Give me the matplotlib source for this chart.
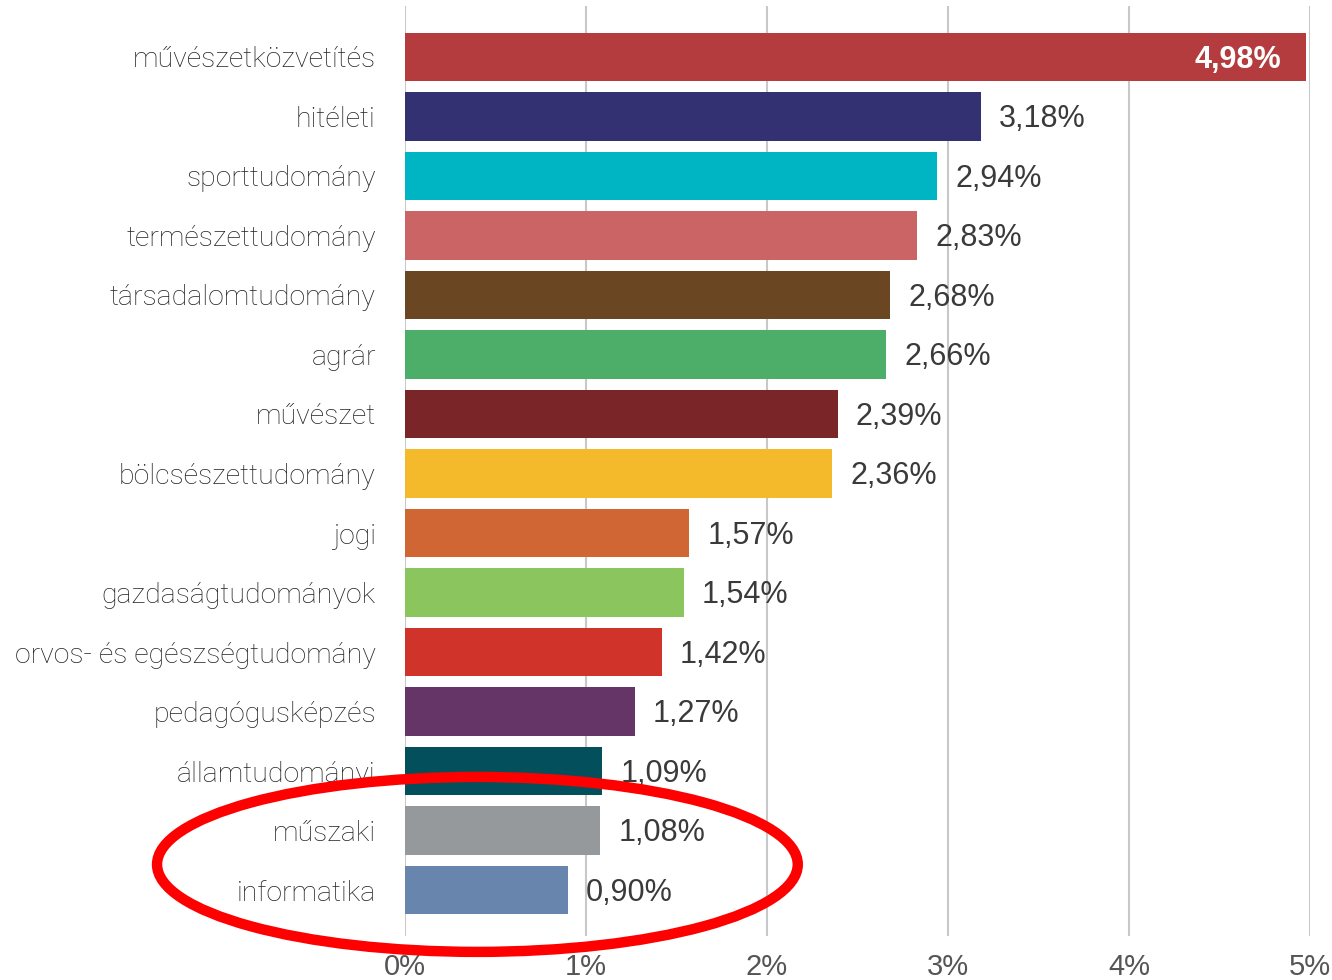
import matplotlib
matplotlib.use("Agg")
import matplotlib.pyplot as plt
from matplotlib.patches import Ellipse

categories = [
    "művészetközvetítés", "hitéleti", "sporttudomány", "természettudomány",
    "társadalomtudomány", "agrár", "művészet", "bölcsészettudomány", "jogi",
    "gazdaságtudományok", "orvos- és egészségtudomány", "pedagógusképzés",
    "államtudományi", "műszaki", "informatika",
]
values = [4.98, 3.18, 2.94, 2.83, 2.68, 2.66, 2.39, 2.36, 1.57, 1.54, 1.42, 1.27, 1.09, 1.08, 0.90]
colors = [
    "#B43C3E", "#333172", "#00B5C3", "#CB6565", "#6B4623", "#4DAE69", "#7A2628",
    "#F5BA2C", "#D06633", "#8AC55E", "#CF3329", "#653567", "#044F5C", "#96999C",
    "#6785AD",
]
xticks = [0, 1, 2, 3, 4, 5]
xtick_labels = ["0%", "1%", "2%", "3%", "4%", "5%"]


def fmt(v):
    return f"{v:.2f}".replace(".", ",") + "%"


fig = plt.figure(figsize=(13.32, 9.8), dpi=100)
ax = fig.add_axes([405 / 1332, 44 / 980, 905 / 1332, 930 / 980])

pos = list(range(len(categories)))
ax.barh(pos, values, height=0.81, color=colors, zorder=2)

ax.set_xlim(0, 5)
ax.set_ylim(len(categories) - 1 + 0.773, -0.857)

ax.set_xticks(xticks)
ax.set_xticklabels(xtick_labels, fontsize=21, color="#555555", family="Liberation Sans")
ax.set_yticks(pos)
ax.set_yticklabels(categories, fontsize=20.5, color="#222222", family="Roboto", fontweight="light")
ax.tick_params(axis="x", length=0, pad=12)
ax.tick_params(axis="y", length=0, pad=21)

for s in ax.spines.values():
    s.set_visible(False)
ax.grid(axis="x", color="#C8C8C8", linewidth=1.5, zorder=0)
ax.set_axisbelow(True)

for i, v in enumerate(values):
    if i == 0:
        ax.text(v - 0.14, i + 0.05, fmt(v), ha="right", va="center", fontsize=22,
                color="white", fontweight="bold", family="Liberation Sans", zorder=3)
    else:
        ax.text(v + 0.10, i + 0.05, fmt(v), ha="left", va="center", fontsize=22,
                color="#3a3a3a", family="Liberation Sans", zorder=3)

# highlight the two lowest categories
ell = Ellipse((0.40, 13.57), width=3.54, height=2.94, fill=False,
              edgecolor="#FF0000", linewidth=7.5, clip_on=False, zorder=5)
ax.add_patch(ell)

fig.savefig("out.png", dpi=100)
